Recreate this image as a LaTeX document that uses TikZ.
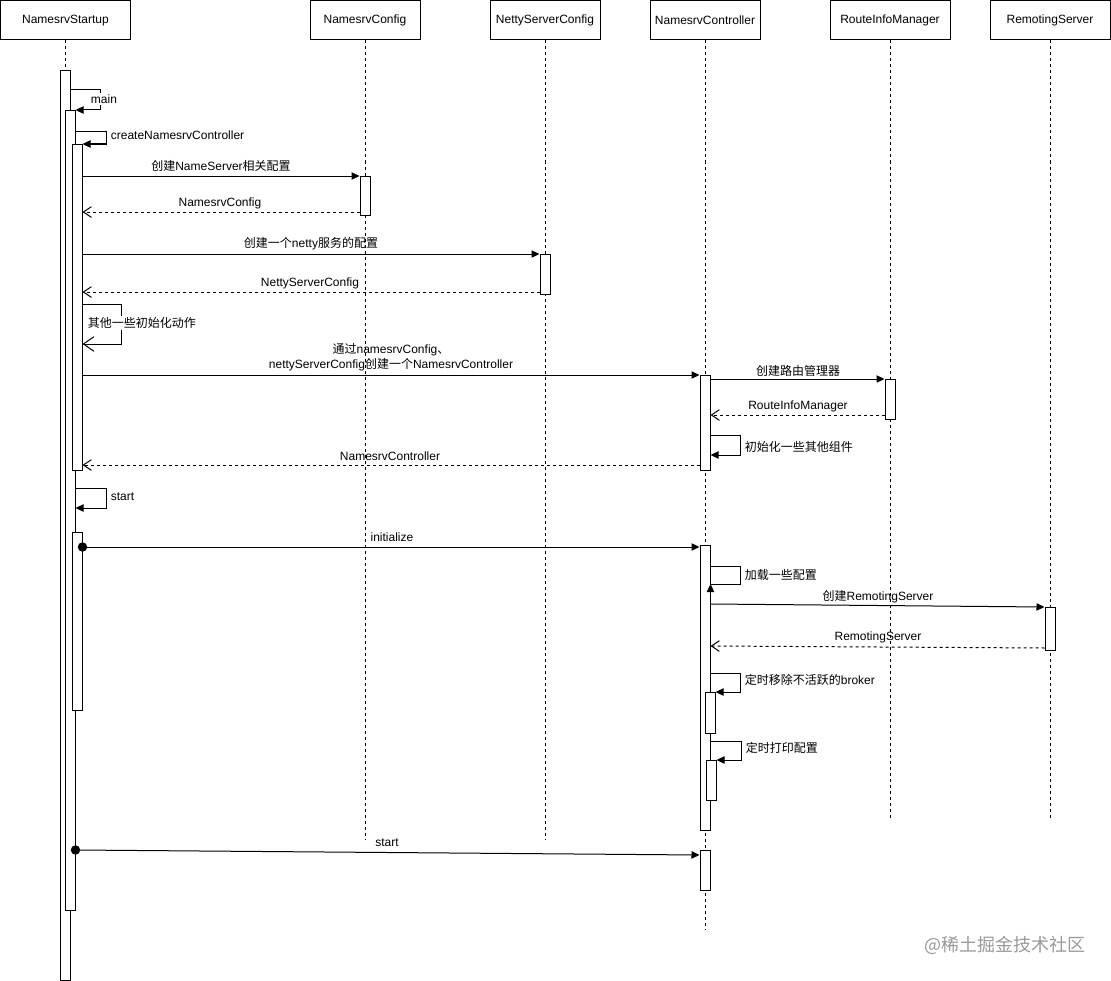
\documentclass[tikz,border=0pt]{standalone}
\usepackage{fontspec}
\setmainfont{Liberation Sans}
\newfontfamily\zhfont{Noto Sans CJK SC}
\usepackage{tikz}
\usetikzlibrary{arrows.meta}

\begin{document}
\begin{tikzpicture}[x=0.75pt, y=-0.75pt, line width=0.75pt,
	head/.style={draw, rectangle, minimum height=29.25pt, inner sep=0pt, font=\fontsize{9}{11}\selectfont},
	bar/.style={draw, fill=white, rectangle, minimum width=7.5pt, inner sep=0pt, anchor=north},
	life/.style={dash pattern=on 2.25pt off 2.25pt},
	msg/.style={-{Triangle[length=6pt,width=5.5pt]}},
	ret/.style={dash pattern=on 2.25pt off 2.25pt, -{Straight Barb[length=6pt,width=8pt]}},
	selfo/.style={-{Straight Barb[length=8pt,width=11pt]}},
	call/.style={{Circle[length=7pt]}-{Triangle[length=6pt,width=5.5pt]}, shorten <=-3.5pt},
	lbl/.style={inner sep=1pt, font=\fontsize{9}{11.25}\selectfont}]
			\useasboundingbox (0,0) rectangle (1111,981);
			\node[head, minimum width=97pt] (st) at (65.5,20.5) {NamesrvStartup};
			\node[head, minimum width=82.5pt] (cfg) at (365,20.5) {NamesrvConfig};
			\node[head, minimum width=82.5pt] (net) at (545,20.5) {NettyServerConfig};
			\node[head, minimum width=82.5pt] (ctl) at (705,20.5) {NamesrvController};
			\node[head, minimum width=90pt] (rim) at (890,20.5) {RouteInfoManager};
			\node[head, minimum width=90pt] (rsv) at (1050,20.5) {RemotingServer};
			\foreach \n/\e in {st/70, cfg/840, net/840, ctl/930, rim/818, rsv/818}
				\draw[life] (\n.south) -- (\n.south |- 0,\e);
			\foreach \n/\x/\t/\b in {s1/65/70/980, s2/70/110/910, s3/77/144/470, s4/77/532/710,
				c1/365/176/215, n1/545/254/294, k1/705/375/470, r1/890/379/419, k2/705/545/830,
				m1/1050/607/650, k3/710/692/733, k4/711/760/800, k5/705/850/890}
				\node[bar, minimum height={(\b-\t)*0.75pt}] (\n) at (\x,\t) {};
			\draw[msg] (s1.east |- 0,90) -- ++(30,0) |- (s2.north east);
			\node[lbl, fill=white] (lmain) at (104,99) {main};
			\draw[msg] (s2.east |- 0,132) -- ++(31,0) |- (s3.north east);
			\node[lbl, anchor=west] (lcreate) at (109,135) {createNamesrvController};
			\draw[msg] (s3.east |- 0,176) -- (c1.north west);
			\node[lbl] (lcfg) at (221,166) {{\zhfont 创建}NameServer{\zhfont 相关配置}};
			\draw[ret] (c1.west |- 0,212) -- (s3.east |- 0,212);
			\node[lbl] (rcfg) at (220,203) {NamesrvConfig};
			\draw[msg] (s3.east |- 0,254) -- (n1.north west);
			\node[lbl] (lnet) at (311,244) {{\zhfont 创建一个}netty{\zhfont 服务的配置}};
			\draw[ret] (n1.west |- 0,292) -- (s3.east |- 0,292);
			\node[lbl] (rnet) at (310,283) {NettyServerConfig};
			\draw[selfo] (s3.east |- 0,304) -- ++(39,0) |- (s3.east |- 0,344);
			\node[lbl, fill=white, anchor=west] (lother) at (86,323) {\zhfont 其他一些初始化动作};
			\draw[msg] (s3.east |- 0,375) -- (k1.north west);
			\node[lbl, align=center] (lctl) at (391,357) {{\zhfont 通过}namesrvConfig{\zhfont 、}\\nettyServerConfig{\zhfont 创建一个}NamesrvController};
			\draw[msg] (k1.east |- 0,379) -- (r1.north west);
			\node[lbl] (lrim) at (798,371) {\zhfont 创建路由管理器};
			\draw[ret] (r1.west |- 0,415) -- (k1.east |- 0,415);
			\node[lbl] (rrim) at (798,406) {RouteInfoManager};
			\draw[msg] (k1.east |- 0,435) -- ++(30,0) |- (k1.east |- 0,455);
			\node[lbl, anchor=west] (lcomp) at (743,447) {\zhfont 初始化一些其他组件};
			\draw[ret] (k1.west |- 0,465) -- (s3.east |- 0,465);
			\node[lbl] (rctl) at (390,456) {NamesrvController};
			\draw[msg] (s2.east |- 0,488) -- ++(31,0) |- (s2.east |- 0,508);
			\node[lbl, anchor=west] (lstart) at (109,497) {start};
			\draw[call] (s4.east |- 0,547) -- (k2.west |- 0,547);
			\node[lbl] (linit) at (392,537) {initialize};
			\draw[msg] (k2.east |- 0,566) -- ++(30,0) |- (k2.east |- 0,584) -- ++(0,8) -- ++(0,-8);
			\node[lbl, anchor=west] (lload) at (743,575) {\zhfont 加载一些配置};
			\draw[msg] (k2.east |- 0,604) -- (m1.north west);
			\node[lbl] (lrs) at (878,597) {{\zhfont 创建}RemotingServer};
			\draw[ret] (m1.west |- 0,648) -- (k2.east |- 0,646);
			\node[lbl] (rrs) at (878,637) {RemotingServer};
			\draw[msg] (k2.east |- 0,673) -- ++(30,0) |- (k3.north east);
			\node[lbl, anchor=west] (lscan) at (743,680) {{\zhfont 定时移除不活跃的}broker};
			\draw[msg] (k2.east |- 0,741) -- ++(31,0) |- (k4.north east);
			\node[lbl, anchor=west] (lprint) at (744,748) {\zhfont 定时打印配置};
			\draw[call] (s2.east |- 0,850) -- (k5.west |- 0,855);
			\node[lbl] (lstart2) at (387,843) {start};
			\node[text=black!40, font=\zhfont\fontsize{13.5}{16}\selectfont] (wm) at (1005,945) {@稀土掘金技术社区};
		\end{tikzpicture}
\end{document}
